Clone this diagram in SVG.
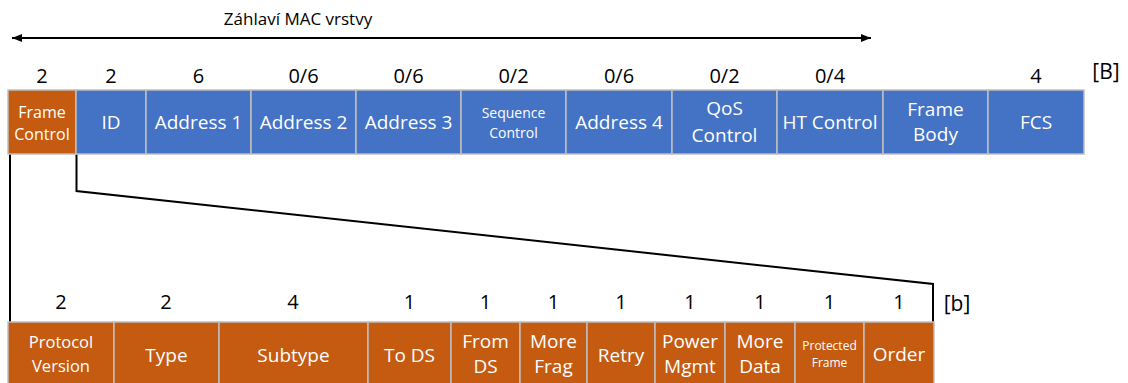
<svg xmlns="http://www.w3.org/2000/svg" width="1128" height="383" viewBox="0 0 1128 383">
<defs>
<marker id="ah" viewBox="0 0 10 8" refX="10" refY="4" markerWidth="10" markerHeight="8" markerUnits="userSpaceOnUse" orient="auto-start-reverse">
<path d="M0,0 L10,4 L0,8 Z" fill="#000"/>
</marker>
</defs>
<style>
text{font-family:"Open Sans","Liberation Sans",sans-serif;text-anchor:middle}
.b rect{fill:#4472C4;stroke:#BFBFBF;stroke-width:1.5}
.o rect{fill:#C55A11;stroke:#BFBFBF;stroke-width:1.5}
.w{fill:#fff;font-size:19px}
.n{fill:#000;font-size:20px}
.line{fill:none;stroke:#000;stroke-width:2}
</style>
<rect width="1128" height="383" fill="#fff"/>
<g id="header">
<text x="298" y="25" style="font-size:17px">Záhlaví MAC vrstvy</text>
<line class="line" x1="12" y1="38" x2="871" y2="38" marker-start="url(#ah)" marker-end="url(#ah)"/>
</g>
<g id="connectors">
<polyline class="line" points="10,154 10,322"/>
<polyline class="line" points="76.5,154 76.5,191 933,284 933,322"/>
</g>
<g id="top-sizes" class="n">
<text x="42" y="83">2</text>
<text x="111" y="83">2</text>
<text x="198.5" y="83">6</text>
<text x="303.5" y="83">0/6</text>
<text x="408.5" y="83">0/6</text>
<text x="513.5" y="83">0/2</text>
<text x="619" y="83">0/6</text>
<text x="724.5" y="83">0/2</text>
<text x="830" y="83">0/4</text>
<text x="1036" y="83">4</text>
<text x="1106" y="79" style="font-size:21px">[B]</text>
</g>
<g id="fc" class="o"><rect x="8" y="90" width="68" height="64"/><text class="w" x="42" y="118" style="font-size:16px">Frame</text><text class="w" x="42" y="140" style="font-size:16px">Control</text></g>
<g id="id" class="b"><rect x="76" y="90" width="70" height="64"/><text class="w" x="111" y="129">ID</text></g>
<g id="addr1" class="b"><rect x="146" y="90" width="105" height="64"/><text class="w" x="198.5" y="129">Address 1</text></g>
<g id="addr2" class="b"><rect x="251" y="90" width="105" height="64"/><text class="w" x="303.5" y="129">Address 2</text></g>
<g id="addr3" class="b"><rect x="356" y="90" width="105" height="64"/><text class="w" x="408.5" y="129">Address 3</text></g>
<g id="seq" class="b"><rect x="461" y="90" width="105" height="64"/><text class="w" x="513.5" y="117.5" style="font-size:14px">Sequence</text><text class="w" x="513.5" y="138" style="font-size:14px">Control</text></g>
<g id="addr4" class="b"><rect x="566" y="90" width="106" height="64"/><text class="w" x="619" y="129">Address 4</text></g>
<g id="qos" class="b"><rect x="672" y="90" width="105" height="64"/><text class="w" x="724.5" y="115">QoS</text><text class="w" x="724.5" y="142">Control</text></g>
<g id="ht" class="b"><rect x="777" y="90" width="106" height="64"/><text class="w" x="830" y="129">HT Control</text></g>
<g id="body" class="b"><rect x="883" y="90" width="105" height="64"/><text class="w" x="935.5" y="115.5">Frame</text><text class="w" x="935.5" y="141">Body</text></g>
<g id="fcs" class="b"><rect x="988" y="90" width="96" height="64"/><text class="w" x="1036" y="129">FCS</text></g>
<g id="bottom-sizes" class="n">
<text x="61" y="309">2</text>
<text x="166" y="309">2</text>
<text x="293" y="309">4</text>
<text x="409.5" y="309">1</text>
<text x="485.5" y="309">1</text>
<text x="553.5" y="309">1</text>
<text x="621" y="309">1</text>
<text x="690" y="309">1</text>
<text x="760" y="309">1</text>
<text x="829.5" y="309">1</text>
<text x="899" y="309">1</text>
<text x="957" y="311" style="font-size:21px">[b]</text>
</g>
<g id="pv" class="o"><rect x="8" y="322" width="106" height="70"/><text class="w" x="61" y="348" style="font-size:16.5px">Protocol</text><text class="w" x="61" y="372" style="font-size:16.5px">Version</text></g>
<g id="type" class="o"><rect x="114" y="322" width="105" height="70"/><text class="w" x="166.5" y="362">Type</text></g>
<g id="subtype" class="o"><rect x="219" y="322" width="149" height="70"/><text class="w" x="293.5" y="362">Subtype</text></g>
<g id="tods" class="o"><rect x="368" y="322" width="83" height="70"/><text class="w" x="409.5" y="362">To DS</text></g>
<g id="fromds" class="o"><rect x="451" y="322" width="69" height="70"/><text class="w" x="485.5" y="348">From</text><text class="w" x="485.5" y="373">DS</text></g>
<g id="morefrag" class="o"><rect x="520" y="322" width="67" height="70"/><text class="w" x="553.5" y="348">More</text><text class="w" x="553.5" y="373">Frag</text></g>
<g id="retry" class="o"><rect x="587" y="322" width="68" height="70"/><text class="w" x="621" y="362">Retry</text></g>
<g id="pwr" class="o"><rect x="655" y="322" width="70" height="70"/><text class="w" x="690" y="348">Power</text><text class="w" x="690" y="373">Mgmt</text></g>
<g id="moredata" class="o"><rect x="725" y="322" width="70" height="70"/><text class="w" x="760" y="348">More</text><text class="w" x="760" y="373">Data</text></g>
<g id="prot" class="o"><rect x="795" y="322" width="69" height="70"/><text class="w" x="829.5" y="350" style="font-size:12px">Protected</text><text class="w" x="829.5" y="366.5" style="font-size:12px">Frame</text></g>
<g id="order" class="o"><rect x="864" y="322" width="70" height="70"/><text class="w" x="899" y="361">Order</text></g>
</svg>
